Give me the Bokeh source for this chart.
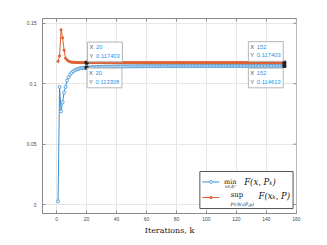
import math
from bokeh.plotting import figure
from bokeh.models import Range1d, FixedTicker, NumeralTickFormatter, Label, BoxAnnotation
from bokeh.embed import file_html
from bokeh.resources import INLINE

iterations = list(range(1, 153))

min_vals = [
    0.0027, 0.0973, 0.0772, 0.0847, 0.0927, 0.0973, 0.1027, 0.1054, 0.1075, 0.1090,
    0.1101, 0.1109, 0.1116, 0.1121, 0.1125, 0.1128, 0.1130, 0.1131, 0.1132, 0.113308,
    0.11340, 0.11348, 0.11356, 0.11363, 0.11369, 0.11375, 0.11380, 0.11385, 0.11389, 0.11393,
    0.11397, 0.11400, 0.11403, 0.11406, 0.11409, 0.11411, 0.11414, 0.11416, 0.11418, 0.11420,
    0.11422, 0.11424, 0.11425, 0.11427, 0.11428, 0.11430, 0.11431, 0.11432, 0.11434, 0.11435,
    0.11436, 0.11437, 0.11438, 0.11439, 0.11440, 0.11441, 0.11442, 0.11443, 0.11444, 0.11445,
    0.11446, 0.11446, 0.11447, 0.11448, 0.11449, 0.11449, 0.11450, 0.11451, 0.11451, 0.11452,
    0.11452, 0.11453, 0.11453, 0.11454, 0.11454, 0.11455, 0.11455, 0.11456, 0.11456, 0.11456,
    0.11457, 0.11457, 0.11457, 0.11458, 0.11458, 0.11458, 0.11459, 0.11459, 0.11459, 0.11459,
    0.11460, 0.11460, 0.11460, 0.11460, 0.11460, 0.11461, 0.11461, 0.11461, 0.11461, 0.11461,
    0.114613, 0.114613, 0.114613, 0.114613, 0.114613, 0.114613, 0.114613, 0.114613, 0.114613, 0.114613,
    0.114613, 0.114613, 0.114613, 0.114613, 0.114613, 0.114613, 0.114613, 0.114613, 0.114613, 0.114613,
    0.114613, 0.114613, 0.114613, 0.114613, 0.114613, 0.114613, 0.114613, 0.114613, 0.114613, 0.114613,
    0.114613, 0.114613, 0.114613, 0.114613, 0.114613, 0.114613, 0.114613, 0.114613, 0.114613, 0.114613,
    0.114613, 0.114613, 0.114613, 0.114613, 0.114613, 0.114613, 0.114613, 0.114613, 0.114613, 0.114613,
    0.114613, 0.114613,
]

sup_vals = [
    0.1185, 0.1230, 0.1446, 0.1380, 0.1277, 0.1210, 0.1196, 0.1186, 0.1181, 0.1178,
    0.1177, 0.1176, 0.11755, 0.11750, 0.11747, 0.11745, 0.11743, 0.11742, 0.11741, 0.117403,
    0.117403, 0.117403, 0.117403, 0.117403, 0.117403, 0.117403, 0.117403, 0.117403, 0.117403, 0.117403,
    0.117403, 0.117403, 0.117403, 0.117403, 0.117403, 0.117403, 0.117403, 0.117403, 0.117403, 0.117403,
    0.117403, 0.117403, 0.117403, 0.117403, 0.117403, 0.117403, 0.117403, 0.117403, 0.117403, 0.117403,
    0.117403, 0.117403, 0.117403, 0.117403, 0.117403, 0.117403, 0.117403, 0.117403, 0.117403, 0.117403,
    0.117403, 0.117403, 0.117403, 0.117403, 0.117403, 0.117403, 0.117403, 0.117403, 0.117403, 0.117403,
    0.117403, 0.117403, 0.117403, 0.117403, 0.117403, 0.117403, 0.117403, 0.117403, 0.117403, 0.117403,
    0.117403, 0.117403, 0.117403, 0.117403, 0.117403, 0.117403, 0.117403, 0.117403, 0.117403, 0.117403,
    0.117403, 0.117403, 0.117403, 0.117403, 0.117403, 0.117403, 0.117403, 0.117403, 0.117403, 0.117403,
    0.117403, 0.117403, 0.117403, 0.117403, 0.117403, 0.117403, 0.117403, 0.117403, 0.117403, 0.117403,
    0.117403, 0.117403, 0.117403, 0.117403, 0.117403, 0.117403, 0.117403, 0.117403, 0.117403, 0.117403,
    0.117403, 0.117403, 0.117403, 0.117403, 0.117403, 0.117403, 0.117403, 0.117403, 0.117403, 0.117403,
    0.117403, 0.117403, 0.117403, 0.117403, 0.117403, 0.117403, 0.117403, 0.117403, 0.117403, 0.117403,
    0.117403, 0.117403, 0.117403, 0.117403, 0.117403, 0.117403, 0.117403, 0.117403, 0.117403, 0.117403,
    0.117403, 0.117403,
]

x_ticks = [0, 20, 40, 60, 80, 100, 120, 140, 160]
y_ticks = [0, 0.05, 0.1, 0.15]
x_label = "Iterations, k"

tip_x = [20, 20, 152, 152]
tip_y = [0.117403, 0.113308, 0.117403, 0.114613]

BLUE = "#3a8fd3"
RED = "#dd6030"
TIPBLUE = "#2b92e6"
GREY = "#8a8a8a"
SANS = "Liberation Sans"
SERIF = "DejaVu Serif"

X0, X1 = -9.4, 160.1
Y0, Y1 = -0.0073, 0.1539

p = figure(width=319, height=237, output_backend="svg", toolbar_location=None,
           x_range=Range1d(X0, X1), y_range=Range1d(Y0, Y1),
           min_border_left=42, min_border_right=23, min_border_top=18, min_border_bottom=19,
           background_fill_color="white", border_fill_color="white")

p.outline_line_color = GREY
p.outline_line_width = 1

for ax in (p.xaxis[0], p.yaxis[0]):
    ax.axis_line_color = GREY
    ax.major_tick_line_color = GREY
    ax.major_tick_in = 3
    ax.major_tick_out = 0
    ax.minor_tick_line_color = None
    ax.major_label_text_font = SANS
    ax.major_label_text_font_size = "5px"
    ax.major_label_text_color = "#4a4a4a"

p.xaxis[0].ticker = FixedTicker(ticks=x_ticks)
p.yaxis[0].ticker = FixedTicker(ticks=y_ticks)
p.yaxis[0].formatter = NumeralTickFormatter(format="0.[00]")
p.xaxis[0].major_label_standoff = 3
p.yaxis[0].major_label_standoff = 6
p.xaxis[0].axis_label = x_label
p.xaxis[0].axis_label_text_font = SERIF
p.xaxis[0].axis_label_text_font_style = "normal"
p.xaxis[0].axis_label_text_font_size = "8px"
p.xaxis[0].axis_label_text_color = "#222222"
p.xaxis[0].axis_label_standoff = 2

p.xgrid.ticker = FixedTicker(ticks=x_ticks)
p.ygrid.ticker = FixedTicker(ticks=y_ticks)
p.grid.grid_line_color = "#e6e6e6"
p.grid.grid_line_width = 1

# inward ticks on the top and right edges of the box
p.ray(x=x_ticks, y=[Y1] * len(x_ticks), length=3, length_units="screen",
      angle=-math.pi / 2, line_color=GREY, line_width=1)
p.ray(x=[X1] * len(y_ticks), y=y_ticks, length=3, length_units="screen",
      angle=math.pi, line_color=GREY, line_width=1)

# series
p.line(iterations, min_vals, line_color=BLUE, line_width=1)
p.scatter(iterations, min_vals, marker="circle", size=3, line_color=BLUE, fill_color="white",
          line_width=0.8)
p.line(iterations, sup_vals, line_color=RED, line_width=1)
p.scatter(iterations, sup_vals, marker="circle", size=2.2, line_color=RED, fill_color=RED)

# datatip markers
p.scatter(tip_x, tip_y, marker="square", size=3, fill_color="#222222", line_color="#222222")

# datatips
tip_offsets = [(1, 20.6), (0.5, -0.5), (-36, 21), (-36, -2.1)]
for tx, ty, (ox, oy) in zip(tip_x, tip_y, tip_offsets):
    box = Label(x=tx, y=ty, x_offset=ox, y_offset=oy, text="X\nY",
                text_font=SANS, text_font_size="5.8px", text_color="#555555",
                text_align="left", text_baseline="top", text_line_height=1.45,
                background_fill_color="white", border_line_color="#b5b5b5",
                border_line_width=1, padding=(2, 29, 2, 3))
    p.add_layout(box)
    val = Label(x=tx, y=ty, x_offset=ox + 8.5, y_offset=oy - 2, text=f"{tx}\n{ty:g}",
                text_font=SANS, text_font_size="5.8px", text_color=TIPBLUE,
                text_align="left", text_baseline="top", text_line_height=1.45)
    p.add_layout(val)

# legend
legend_box = BoxAnnotation(left=95.6, right=157.8, top=0.0274, bottom=-0.0032,
                           fill_color="white", fill_alpha=1, line_color="#555555",
                           line_width=1, line_alpha=1)
p.add_layout(legend_box)

leg_x = [97.2, 108.6]
l1 = p.line(leg_x, [0.0188, 0.0188], line_color=BLUE, line_width=1)
m1 = p.scatter([103], [0.0188], marker="circle", size=3, line_color=BLUE, fill_color="white",
               line_width=0.8)
l2 = p.line(leg_x, [0.0059, 0.0059], line_color=RED, line_width=1)
m2 = p.scatter([103], [0.0059], marker="circle", size=2.2, line_color=RED, fill_color=RED)
for r in (l1, m1, l2, m2):
    r.level = "overlay"

def add_text(x, y, text, size, style="normal", align="left"):
    lab = Label(x=x, y=y, text=text, text_font=SERIF, text_font_size=size,
                text_font_style=style, text_color="#111111", text_align=align,
                text_baseline="alphabetic")
    p.add_layout(lab)

add_text(115.9, 0.0187, "min", "6.5px", align="center")
add_text(115.9, 0.0150, "x∈Δⁿ", "4.5px", style="italic", align="center")
add_text(125.2, 0.0190, "F(x, Pₖ)", "8.5px", style="italic")
add_text(120.4, 0.0077, "sup", "7px", align="center")
add_text(123.9, 0.0001, "P∈W₁(P̂,ρ)", "4.5px", style="italic", align="center")
add_text(134.8, 0.0069, "F(xₖ, P)", "8.5px", style="italic")

open("out.html", "w").write(file_html(p, INLINE))
